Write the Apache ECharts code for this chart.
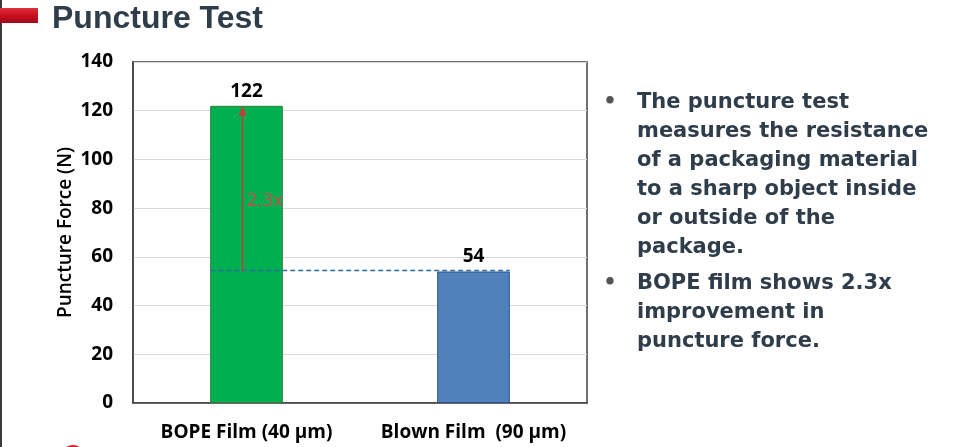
<!DOCTYPE html>
<html><head><meta charset="utf-8">
<script src="https://cdn.jsdelivr.net/npm/echarts@6/dist/echarts.min.js"></script>
<style>html,body{margin:0;padding:0;background:#fff}#c{width:961px;height:447px}</style>
</head><body><div id="c"></div>
<script>
const categories = ['BOPE Film (40 µm)', 'Blown Film  (90 µm)'];
const values = [122, 54];
const barColors = ['#00B050', '#4F81BD'];
const barBorders = ['#2F7D3A', '#2F528F'];
const yTicks = [0, 20, 40, 60, 80, 100, 120, 140];
const titleText = 'Puncture Test';
const yName = 'Puncture Force (N)';
const bullets = [
  'The puncture test\nmeasures the resistance\nof a packaging material\nto a sharp object inside\nor outside of the\npackage.',
  'BOPE film shows 2.3x\nimprovement in\npuncture force.'
];
const ratioLabel = (values[0] / values[1]).toFixed(1) + 'x';

const chart = echarts.init(document.getElementById('c'));
const textColor = '#2F3D4B';
const BAR_FRAC = 0.32;

chart.setOption({
  animation: false,
  grid: { left: 133, right: 374, top: 62, bottom: 44, show: true, borderColor: '#404040', borderWidth: 1.5 },
  xAxis: {
    type: 'category', data: categories,
    axisLine: { lineStyle: { color: '#404040', width: 1.5 } },
    axisTick: { show: false },
    axisLabel: { interval: 0, hideOverlap: false, color: '#000', fontFamily: 'Open Sans', fontWeight: 'bold', fontSize: 19, margin: 20 }
  },
  yAxis: {
    type: 'value', min: yTicks[0], max: yTicks[yTicks.length - 1], interval: yTicks[1] - yTicks[0],
    name: yName, nameLocation: 'middle', nameGap: 58, nameRotate: 90,
    nameTextStyle: { color: '#000', fontFamily: 'Open Sans', fontWeight: 600, fontSize: 19 },
    axisLine: { show: true, lineStyle: { color: '#404040', width: 1.5 } },
    axisTick: { show: false },
    axisLabel: { color: '#000', fontFamily: 'Open Sans', fontWeight: 'bold', fontSize: 19, margin: 20 },
    splitLine: { lineStyle: { color: '#D9D9D9', width: 1 } }
  },
  series: [
    {
      type: 'bar', barWidth: (BAR_FRAC * 100) + '%',
      data: values.map((v, i) => ({ value: v, itemStyle: { color: barColors[i], borderColor: barBorders[i], borderWidth: 1 } })),
      label: { show: true, position: 'top', distance: 5, color: '#000', fontFamily: 'Open Sans', fontWeight: 'bold', fontSize: 19 },
      z: 2
    },
    {
      type: 'custom', z: 5,
      data: [[0, values[0], values[1]]],
      renderItem: function (params, api) {
        const hi = api.value(1), lo = api.value(2);
        const p0 = api.coord([0, lo]);
        const p1 = api.coord([1, lo]);
        const top = api.coord([0, hi]);
        const bw = api.size([1, 0])[0] * BAR_FRAC;
        const ax = p0[0] - 4;
        const midY = api.coord([0, lo + (hi - lo) * 0.43])[1];
        return {
          type: 'group',
          children: [
            { type: 'line', shape: { x1: p0[0] - bw / 2, y1: p0[1] - 1, x2: p1[0] + bw / 2, y2: p1[1] - 1 },
              style: { stroke: '#2E6DA8', lineWidth: 1.5, lineDash: [5, 3] } },
            { type: 'line', shape: { x1: ax, y1: p0[1], x2: ax, y2: top[1] + 8 },
              style: { stroke: '#B8433C', lineWidth: 1.6 } },
            { type: 'polygon', shape: { points: [[ax, top[1]], [ax - 4, top[1] + 10], [ax + 4, top[1] + 10]] },
              style: { fill: '#B8433C' } },
            { type: 'text', x: ax + 4, y: midY,
              style: { text: ratioLabel, fill: '#C9504A', font: '19px "Open Sans"', textAlign: 'left', textVerticalAlign: 'middle' } }
          ]
        };
      }
    }
  ],
  graphic: [
    { type: 'rect', shape: { x: 0, y: 0, width: 2, height: 447 }, style: { fill: '#3A3A3A' } },
    { type: 'rect', shape: { x: 0, y: 8, width: 38, height: 15 },
      style: { fill: new echarts.graphic.LinearGradient(0, 0, 0, 1, [
        { offset: 0, color: '#E0303A' }, { offset: 0.5, color: '#C8101E' }, { offset: 1, color: '#A00A18' }]) } },
    { type: 'text', x: 52, y: 19, style: { text: titleText, fill: textColor, font: 'bold 32px "Liberation Sans"', textVerticalAlign: 'middle' } },
    { type: 'ellipse', shape: { cx: 73, cy: 453, rx: 10, ry: 8 }, style: { fill: '#D8202A' } },
    { type: 'text', x: 610, y: 103, style: { text: '•', fill: '#555', font: 'bold 21px "DejaVu Sans"', textAlign: 'center', textVerticalAlign: 'middle' } },
    { type: 'text', x: 610, y: 284, style: { text: '•', fill: '#555', font: 'bold 21px "DejaVu Sans"', textAlign: 'center', textVerticalAlign: 'middle' } },
    { type: 'text', x: 637, y: 88.5, style: { text: bullets[0], fill: textColor, font: 'bold 21px "DejaVu Sans"', lineHeight: 29, textVerticalAlign: 'top' } },
    { type: 'text', x: 637, y: 269.5, style: { text: bullets[1], fill: textColor, font: 'bold 21px "DejaVu Sans"', lineHeight: 29, textVerticalAlign: 'top' } }
  ]
});
</script></body></html>
